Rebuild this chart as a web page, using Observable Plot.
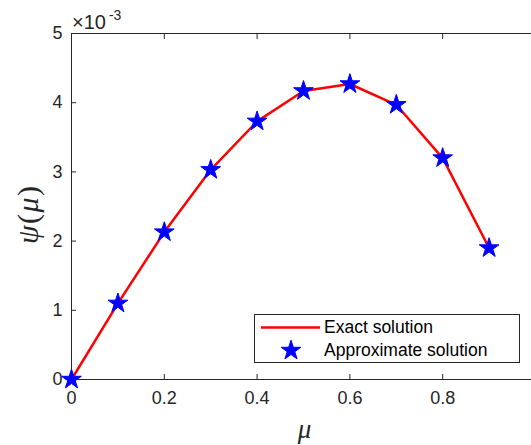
<!DOCTYPE html>
<html><head><meta charset="utf-8">
<script src="https://cdn.jsdelivr.net/npm/d3@7"></script>
<script src="https://cdn.jsdelivr.net/npm/@observablehq/plot@0.6"></script>
<style>
html,body{margin:0;padding:0;background:#fff;overflow:hidden;}
#wrap{position:relative;width:531px;height:445px;overflow:hidden;font-family:"Liberation Sans",Arial,sans-serif;color:#262626;}
#legend{position:absolute;left:254px;top:314px;width:264px;height:47px;border:1px solid #262626;background:#fff;}
#legend svg{position:absolute;left:0;top:0;}
#legend .lab{position:absolute;left:69px;font-size:17.5px;line-height:20px;color:#000;white-space:nowrap;}
</style></head><body><div id="wrap"></div>
<script>
const mu = [0, 0.1, 0.2, 0.3, 0.4, 0.5, 0.6, 0.7, 0.8, 0.9];
const psiExact = [0, 0.00110, 0.00213, 0.00303, 0.00373, 0.00417, 0.00427, 0.00397, 0.00320, 0.00190];
const psiApprox = [0, 0.00110, 0.00213, 0.00303, 0.00373, 0.00417, 0.00427, 0.00397, 0.00320, 0.00190];
const xTicks = [0, 0.2, 0.4, 0.6, 0.8, 1];
const xTickLabels = ["0", "0.2", "0.4", "0.6", "0.8", "1"];
const yTicks = [0, 0.001, 0.002, 0.003, 0.004, 0.005];
const yTickLabels = ["0", "1", "2", "3", "4", "5"];
const seriesNames = ["Exact solution", "Approximate solution"];
const xLabel = "μ";
const yLabelParts = ["ψ", "(", "μ", ")"];
const exponentBase = "×10";
const exponentPower = "-3";

const exact = mu.map((m, i) => ({mu: m, psi: psiExact[i]}));
const approx = mu.map((m, i) => ({mu: m, psi: psiApprox[i]}));

const plot = Plot.plot({
  width: 531,
  height: 445,
  marginLeft: 71,
  marginRight: -4,
  marginTop: 33,
  marginBottom: 66,
  style: {fontFamily: "'Liberation Sans', Arial, sans-serif", fontSize: "18px", color: "#262626", background: "white"},
  x: {domain: [0, 1]},
  y: {domain: [0, 0.005]},
  marks: [
    Plot.frame({stroke: "#262626", strokeWidth: 1}),
    Plot.axisX({ticks: xTicks, anchor: "bottom", tickSize: -5, tickFormat: () => "", label: null}),
    Plot.axisX({ticks: xTicks, anchor: "top", tickSize: -5, tickFormat: () => "", label: null}),
    Plot.axisY({ticks: yTicks, anchor: "left", tickSize: -5, tickFormat: () => "", label: null}),
    Plot.axisY({ticks: yTicks, anchor: "right", tickSize: -5, tickFormat: () => "", label: null}),
    Plot.axisX({ticks: xTicks, anchor: "bottom", tickSize: 0, tickPadding: 12, fontSize: 18, tickFormat: (d, i) => xTickLabels[i], label: null}),
    Plot.axisY({ticks: yTicks, anchor: "left", tickSize: 0, tickPadding: 9, fontSize: 18, tickFormat: (d, i) => yTickLabels[i], label: null}),
    Plot.line(exact, {x: "mu", y: "psi", stroke: "#ff0000", strokeWidth: 2.5}),
    Plot.dot(approx, {x: "mu", y: "psi", symbol: "star", r: 6.2, fill: "#0000ff", stroke: "#0000ff", strokeWidth: 1}),
    Plot.text([xLabel], {text: d => d, frameAnchor: "bottom", dx: 1, dy: 58, lineAnchor: "bottom", fontSize: 27, fontStyle: "italic", fontFamily: "'Liberation Serif', 'DejaVu Serif', serif", fill: "#262626"})
  ]
});

const wrap = document.getElementById("wrap");
wrap.appendChild(plot);

const svg = d3.select(plot);
// y label
const yl = svg.append("text")
  .attr("transform", "translate(38,215) rotate(-90)")
  .attr("text-anchor", "middle")
  .attr("font-family", "'Liberation Serif', 'DejaVu Serif', serif")
  .attr("font-size", 30)
  .attr("fill", "#262626");
yLabelParts.forEach((p, i) => {
  yl.append("tspan").attr("font-style", (p === "(" || p === ")") ? "normal" : "italic")
    .attr("dx", i === 0 ? 0 : 1.5).text(p);
});
// exponent
const ex = svg.append("text").attr("x", 72).attr("y", 28.5)
  .attr("text-anchor", "start")
  .attr("font-family", "'Liberation Sans', Arial, sans-serif").attr("fill", "#262626");
ex.append("tspan").attr("font-size", 20).text(exponentBase);
ex.append("tspan").attr("font-size", 14).attr("dx", 3).attr("dy", -9).text(exponentPower);

// legend
const legend = document.createElement("div");
legend.id = "legend";
const ls = d3.create("svg").attr("width", 264).attr("height", 47);
ls.append("line").attr("x1", 6).attr("x2", 65).attr("y1", 12.5).attr("y2", 12.5)
  .attr("stroke", "#ff0000").attr("stroke-width", 2.5);
ls.append("path").attr("transform", "translate(36,35.5)")
  .attr("d", d3.symbol(d3.symbolStar, 6.2 * 6.2 * Math.PI)())
  .attr("fill", "#0000ff").attr("stroke", "#0000ff");
legend.appendChild(ls.node());
seriesNames.forEach((name, i) => {
  const s = document.createElement("div");
  s.className = "lab";
  s.style.top = (i === 0 ? 2 : 25) + "px";
  s.textContent = name;
  legend.appendChild(s);
});
wrap.appendChild(legend);
</script>
</body></html>
